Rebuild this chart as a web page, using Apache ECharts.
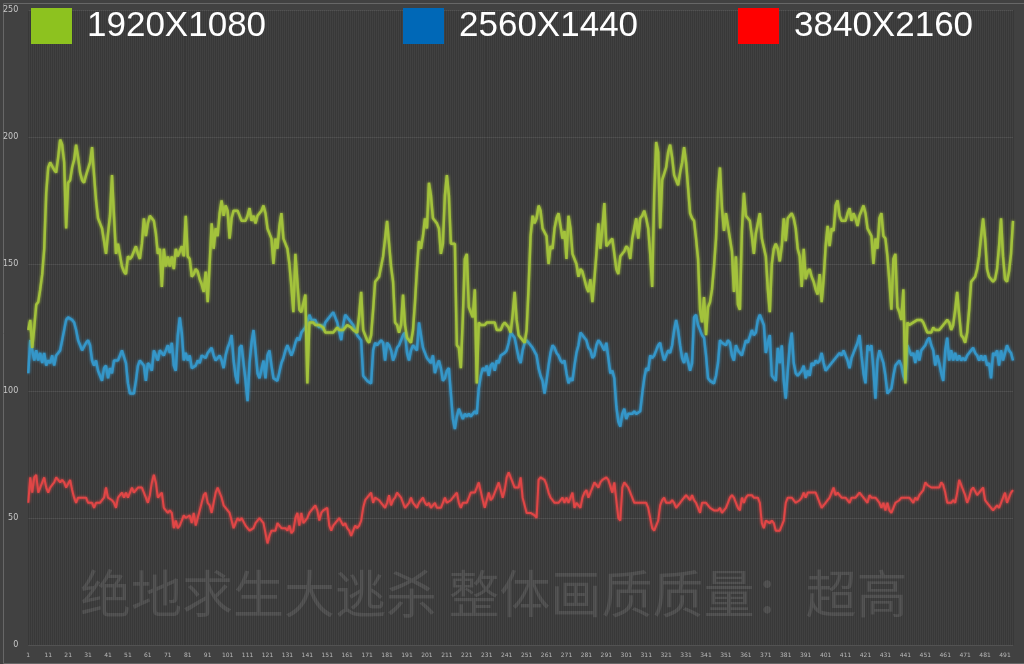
<!DOCTYPE html>
<html>
<head>
<meta charset="utf-8">
<script src="https://cdn.jsdelivr.net/npm/echarts@6/dist/echarts.min.js"></script>
<style>
html,body{margin:0;padding:0;background:#414141;}
#chart{width:1024px;height:664px;}
</style>
</head>
<body>
<div id="chart"></div>
<script>
// Sample index labels 1..495 (x axis)
const categories = Array.from({length: 495}, (_, i) => String(i + 1));
const seriesNames = ['1920X1080', '2560X1440', '3840X2160'];
const yTicks = [0, 50, 100, 150, 200, 250];
const title = '绝地求生大逃杀 整体画质质量：超高';

const fps1080 = [
124,128,117,125,134,135,140,146,156,178,
188,190,190,187,186,192,199,197,190,164,
182,183,188,191,197,192,186,183,182,185,
185,190,196,185,175,168,166,164,159,154,
162,169,185,169,154,158,158,149,147,146,
153,152,153,155,157,154,152,158,168,161,
166,169,169,167,162,154,156,141,156,149,
153,149,153,148,156,153,155,157,153,169,
153,152,145,146,148,147,144,142,139,147,
135,150,166,156,164,161,170,175,169,173,
171,160,168,171,171,171,171,167,167,167,
169,172,167,169,166,169,170,171,173,170,
164,164,160,150,160,156,165,170,160,160,
156,150,141,131,154,143,132,131,131,138,
103,127,127,127,126,126,126,126,125,123,
123,123,123,123,124,125,124,124,124,124,
126,126,125,124,124,123,130,139,124,122,
120,119,122,132,143,144,145,149,153,160,
167,158,149,143,127,126,123,126,138,126,
121,121,119,124,135,148,159,156,161,168,
164,182,177,168,167,166,164,154,158,177,
185,177,158,158,158,118,117,109,129,152,
154,133,131,129,140,103,127,126,126,126,
127,127,127,127,127,124,124,124,126,127,
127,125,123,130,139,128,122,121,120,119,
124,141,161,169,166,168,173,171,164,164,
161,150,157,156,164,168,170,165,160,163,
152,169,164,154,152,150,145,148,147,144,
141,139,144,135,144,154,166,156,164,174,
157,158,159,160,154,148,146,153,154,155,
157,156,152,160,164,168,160,168,169,171,
168,164,154,141,177,198,194,164,183,183,
188,194,197,192,185,183,181,186,190,196,
190,180,170,168,167,160,152,132,127,137,
122,133,135,140,149,160,179,188,172,163,
170,165,160,155,139,153,134,132,163,178,
169,168,167,161,154,162,166,170,160,160,
153,140,131,150,156,158,156,151,157,168,
159,168,169,170,168,164,156,153,141,156,
144,147,148,145,143,140,138,146,135,144,
157,165,157,164,163,173,175,169,167,167,
167,170,172,167,170,168,165,169,171,173,
170,164,164,161,150,160,156,168,170,161,
160,153,143,132,152,154,133,131,128,140,
103,127,126,126,127,127,128,128,128,127,
125,123,123,123,125,124,124,124,124,126,
127,128,127,124,126,132,139,130,122,121,
119,123,132,143,144,145,148,153,161,168,
160,148,145,144,143,144,148,157,168,153,
144,143,147,154,167
];

const fps1440 = [
107,120,116,112,116,112,115,111,115,110,
112,111,114,110,114,115,116,120,124,128,
129,129,128,127,124,120,118,116,116,119,
120,118,112,110,112,108,106,104,109,110,
105,109,107,112,112,112,114,116,116,111,
103,99,99,99,104,110,112,111,110,104,
111,110,108,116,114,112,116,116,114,116,
118,115,119,110,108,122,129,123,112,115,
112,114,109,109,110,112,111,114,114,113,
115,116,117,114,112,113,114,112,109,114,
117,119,122,112,106,103,117,118,118,104,
96,111,119,124,116,107,105,105,112,105,
114,116,110,105,105,104,104,111,113,116,
118,116,114,116,119,121,120,123,124,125,
127,130,128,128,128,126,125,126,124,127,
128,128,130,131,129,127,127,120,126,130,
129,128,128,126,124,122,121,120,106,105,
104,104,103,116,119,118,118,120,119,112,
119,118,116,112,114,117,118,120,122,123,
115,112,116,118,118,116,127,122,117,115,
113,112,111,114,107,110,112,109,104,105,
108,109,99,89,85,90,93,91,89,91,
90,91,90,91,92,91,101,106,109,108,
110,106,110,111,108,112,111,114,114,115,
116,119,123,122,121,117,113,111,116,119,
120,119,119,117,117,114,109,106,104,99,
104,110,115,118,117,115,114,112,111,112,
107,103,105,104,110,115,118,123,122,121,
120,117,116,113,114,118,120,119,119,116,
119,113,107,108,105,94,88,86,91,93,
89,91,91,91,92,91,91,92,99,105,
109,108,114,113,114,116,118,119,115,112,
114,116,115,118,124,128,124,118,113,111,
115,115,108,111,129,130,126,124,122,121,
114,105,104,104,103,106,111,120,119,119,
118,120,119,114,112,118,116,115,114,114,
120,119,119,124,122,123,128,130,130,126,
115,119,122,106,106,104,117,111,118,104,
97,108,118,123,111,107,106,107,108,110,
105,108,106,111,110,112,111,112,115,111,
108,108,110,111,112,112,114,115,114,116,
116,112,109,113,115,117,119,122,114,107,
103,118,116,118,108,97,112,116,116,111,
106,99,99,101,106,110,111,112,110,106,
104,118,116,114,115,111,116,112,116,116,
118,120,121,118,116,110,114,111,107,104,
116,121,112,116,112,115,112,114,112,113,
112,114,114,116,117,115,114,112,114,112,
114,110,111,105,115,114,116,110,116,112,
115,118,116,115,112
];

const fps2160 = [
56,66,60,66,67,60,62,64,66,62,
60,62,63,64,66,65,64,65,64,62,
62,65,61,58,56,58,58,58,58,58,
56,56,56,54,56,56,56,57,58,62,
58,58,57,56,54,58,58,60,58,60,
58,60,62,60,61,62,62,62,60,58,
56,59,64,67,64,58,58,60,54,53,
52,53,52,46,49,46,47,49,51,50,
50,51,48,52,47,50,53,56,59,60,
56,55,52,56,60,62,60,58,55,54,
53,52,49,46,48,50,49,50,50,47,
46,45,45,46,48,49,50,49,48,48,
40,43,45,45,45,48,47,46,46,46,
45,47,44,45,50,52,47,52,48,49,
50,52,53,54,55,53,49,52,53,53,
54,47,45,47,48,49,50,50,47,48,
46,45,43,45,47,46,47,49,54,57,
58,58,60,56,58,58,57,56,55,54,
56,59,55,57,58,60,60,58,56,54,
55,56,58,56,56,54,56,56,58,56,
55,56,54,54,56,54,54,54,56,58,
56,56,57,58,58,60,56,54,56,56,
56,56,60,60,60,62,64,64,57,54,
54,60,57,58,58,62,64,61,58,61,
66,68,66,64,62,62,62,66,58,55,
52,52,52,52,51,50,65,66,66,65,
63,60,58,57,56,56,56,56,58,56,
58,56,58,60,54,56,55,54,58,60,
61,58,60,62,64,63,62,64,65,65,
66,65,65,60,64,64,50,49,62,64,
63,62,60,58,56,56,56,56,56,56,
56,54,50,46,45,45,49,55,57,58,
56,56,56,57,56,54,55,56,57,58,
59,58,57,59,57,56,56,52,56,56,
56,56,54,54,53,53,53,54,52,53,
54,56,58,59,58,56,54,53,58,56,
58,59,59,59,58,58,58,56,48,46,
49,49,48,49,48,45,45,45,45,49,
56,58,58,58,58,56,56,57,58,60,
58,60,60,60,60,60,58,56,54,54,
56,57,58,60,62,59,60,59,58,58,
58,58,56,58,58,58,59,60,60,58,
58,56,59,58,58,58,57,56,54,56,
53,56,53,52,54,56,56,57,58,58,
58,58,58,57,56,58,57,59,60,61,
64,63,63,62,62,62,62,62,64,63,
60,56,56,56,57,56,60,65,63,61,
59,56,58,61,62,62,59,60,60,62,
57,56,55,54,53,54,55,54,56,58,
60,56,58,60,61
];

const lineColors = ['#a3c23c', '#3596c8', '#e04646'];
const legendColors = ['#8dc21f', '#0068b7', '#ff0000'];
const legendLeft = [26, 398, 733];

const chart = echarts.init(document.getElementById('chart'), null, {renderer: 'canvas'});

const legends = seriesNames.map((n, i) => ({
  left: legendLeft[i],
  top: 3,
  icon: 'rect',
  itemWidth: 41,
  itemHeight: 36,
  selectedMode: false,
  data: [{name: n, itemStyle: {color: legendColors[i]}}],
  textStyle: {color: '#ffffff', fontSize: 35, fontFamily: 'Liberation Sans', padding: [0, 0, 0, 10]}
}));

const dataSets = [fps1080, fps1440, fps2160];

chart.setOption({
  backgroundColor: '#414141',
  animation: false,
  legend: legends,
  grid: {left: 28, right: 11, top: 10, bottom: 19, containLabel: false},
  xAxis: {
    type: 'category',
    data: categories,
    boundaryGap: false,
    axisLine: {show: false},
    axisTick: {show: false},
    axisLabel: {interval: 9, color: '#b8b8b8', fontSize: 6, margin: 7, fontFamily: 'DejaVu Sans'},
    splitLine: {show: true, interval: 0, lineStyle: {color: 'rgba(0,0,0,0.13)', width: 1}}
  },
  yAxis: {
    type: 'value',
    min: yTicks[0],
    max: yTicks[yTicks.length - 1],
    interval: 50,
    axisLine: {show: false},
    axisTick: {show: false},
    axisLabel: {color: '#c8c8c8', fontSize: 8, margin: 10, fontFamily: 'DejaVu Sans'},
    splitLine: {show: true, lineStyle: {color: '#525252', width: 1}}
  },
  graphic: [
    {
      type: 'text', left: 80, top: 568, z: 0, silent: true,
      style: {text: title, fill: '#555555', fontSize: 51, fontWeight: 'normal', fontFamily: 'Noto Sans CJK SC'}
    },
    {
      type: 'rect', left: 1, top: 1, z: 0, silent: true,
      shape: {x: 0, y: 0, width: 1021, height: 660},
      style: {fill: 'none', stroke: '#676767', lineWidth: 1}
    }
  ],
  series: seriesNames.map((n, i) => ({
    name: n,
    type: 'line',
    data: dataSets[i],
    showSymbol: false,
    symbol: 'none',
    z: 3 + (2 - i),
    color: lineColors[i],
    lineStyle: {color: lineColors[i], width: i === 2 ? 2 : 2.5, shadowBlur: 3, shadowColor: lineColors[i]}
  }))
});
</script>
</body>
</html>
